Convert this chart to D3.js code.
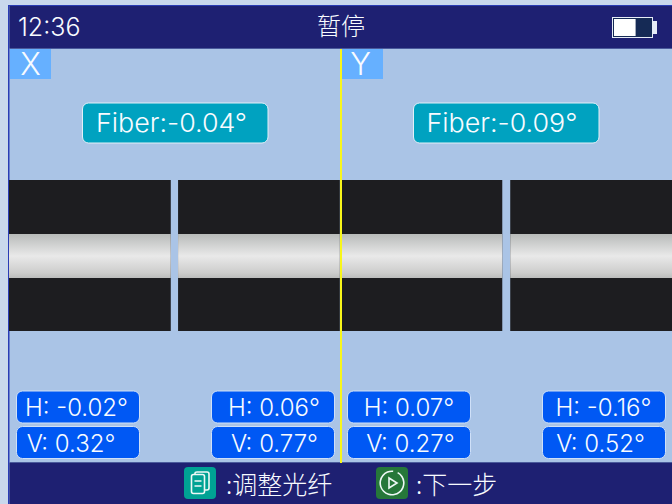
<!DOCTYPE html>
<html>
<head>
<meta charset="utf-8">
<script src="https://cdnjs.cloudflare.com/ajax/libs/d3/7.8.5/d3.min.js"></script>
<style>
  html, body { margin: 0; padding: 0; background: #c9d8ec; overflow: hidden; }
  text { font-family: "Noto Sans CJK SC", "Noto Sans", sans-serif; fill: #f8fbff; font-weight: 300; }
  .latin { font-family: Inter, "Noto Sans", sans-serif; }
</style>
</head>
<body>
<svg width="672" height="504"></svg>
<script>
const axesNames = ["X", "Y"];
const fiberAngles = [-0.04, -0.09];
const hAngles = [-0.02, 0.06, 0.07, -0.16];
const vAngles = [0.32, 0.77, 0.27, 0.52];
const clockTime = "12:36";
const statusTitle = "暂停";
const batteryLevel = 0.6;
// fiber end faces, in % of the screen width
const fiberSegments = [[0, 24.4], [25.5, 49.9], [50, 74.4], [75.6, 100]];
const footerLabels = [":调整光纤", ":下一步"];

const svg = d3.select("svg");

const x = d3.scaleLinear().domain([0, 100]).range([9, 672]);
const axisBand = d3.scaleBand().domain(axesNames).range([9, 672]);
const readoutSlot = d3.scaleOrdinal().domain([0, 1, 2, 3]).range([16, 211, 347, 542]);
const readoutWidth = 123;
// the device does not centre its readouts exactly
const hTextShift = [60.5, 63, 62, 61.5];
const vTextShift = [55, 63.5, 63.5, 58.5];
const fmt = v => `${v.toFixed(2)}°`;

// frame + panels
svg.append("rect").attr("x", 8).attr("y", 5).attr("width", 664).attr("height", 499).attr("fill", "#2a3cb4");
svg.append("rect").attr("x", 9.5).attr("y", 6).attr("width", 662.5).attr("height", 498).attr("fill", "#aac4e6");
svg.append("rect").attr("x", 9.5).attr("y", 6).attr("width", 662.5).attr("height", 42).attr("fill", "#1e2072");
svg.append("rect").attr("x", 9.5).attr("y", 48).attr("width", 662.5).attr("height", 1).attr("fill", "#4a5a9c");
svg.append("rect").attr("x", 9.5).attr("y", 463).attr("width", 662.5).attr("height", 41).attr("fill", "#1e2072");
svg.append("rect").attr("x", 9.5).attr("y", 462).attr("width", 662.5).attr("height", 1).attr("fill", "#4a5a9c");

// header
svg.append("text").attr("class", "latin").attr("x", 18).attr("y", 35.5).attr("font-size", 25).text(clockTime);
svg.append("text").attr("x", 341).attr("y", 35).attr("text-anchor", "middle").attr("font-size", 24).text(statusTitle);

// battery
const battery = svg.append("g").attr("transform", "translate(612,17)");
battery.append("rect").attr("x", 0.5).attr("y", 0.5).attr("width", 40).attr("height", 20).attr("fill", "#152a55").attr("stroke", "#e6ecf6");
battery.append("rect").attr("x", 2).attr("y", 2).attr("width", d3.scaleLinear().domain([0, 1]).range([0, 36])(batteryLevel)).attr("height", 17).attr("fill", "#fff");
battery.append("rect").attr("x", 41).attr("y", 4).attr("width", 4).attr("height", 13).attr("fill", "#e6ecf6");

// fiber gradient
const defs = svg.append("defs");
const grad = defs.append("linearGradient").attr("id", "fiberGrad").attr("x1", 0).attr("x2", 0).attr("y1", 0).attr("y2", 1);
grad.selectAll("stop")
  .data([[0, "#b8bbb9"], [0.12, "#c4c6c5"], [0.5, "#e9e9e9"], [0.88, "#cdcdcc"], [1, "#bcbdbc"]])
  .join("stop")
  .attr("offset", d => d[0])
  .attr("stop-color", d => d[1]);

// fiber blocks
const seg = svg.append("g").selectAll("g").data(fiberSegments).join("g");
seg.append("rect")
  .attr("x", d => x(d[0]))
  .attr("y", 180)
  .attr("width", d => x(d[1]) - x(d[0]))
  .attr("height", 151)
  .attr("fill", "#1d1d20");
seg.append("rect")
  .attr("x", d => x(d[0]))
  .attr("y", 234)
  .attr("width", d => x(d[1]) - x(d[0]))
  .attr("height", 44)
  .attr("fill", "url(#fiberGrad)");

// axis tabs
const tabs = svg.append("g").selectAll("g").data(axesNames).join("g");
tabs.append("rect")
  .attr("x", d => axisBand(d) + (d === "X" ? 1 : 1.5))
  .attr("y", 49)
  .attr("width", 41)
  .attr("height", 30)
  .attr("fill", "#66b0ff");
tabs.append("text")
  .attr("class", "latin")
  .attr("x", d => axisBand(d) + (d === "X" ? 21.5 : 20))
  .attr("y", 75)
  .attr("text-anchor", "middle")
  .attr("font-size", 31)
  .text(d => d);

// fiber angle badges
const badges = svg.append("g").selectAll("g").data(fiberAngles).join("g");
badges.append("rect")
  .attr("x", (d, i) => axisBand(axesNames[i]) + 73.5 - i * 0.5)
  .attr("y", 103)
  .attr("width", 185.5)
  .attr("height", 40)
  .attr("rx", 6)
  .attr("fill", "#00a2c0")
  .attr("stroke", "#e2f0f8");
badges.append("text")
  .attr("class", "latin")
  .attr("x", (d, i) => axisBand(axesNames[i]) + 87 - i)
  .attr("y", 132)
  .attr("font-size", 26)
  .attr("textLength", 151)
  .attr("lengthAdjust", "spacingAndGlyphs")
  .text(d => `Fiber:${fmt(d)}`);

// H / V readouts
const rows = [["H", hAngles, 391, 32, hTextShift], ["V", vAngles, 426.5, 32, vTextShift]];
rows.forEach(([name, values, top, h, shift]) => {
  const g = svg.append("g").selectAll("g").data(values).join("g");
  g.append("rect")
    .attr("x", (d, i) => readoutSlot(i) + 0.5)
    .attr("y", top)
    .attr("width", readoutWidth)
    .attr("height", h)
    .attr("rx", 6)
    .attr("fill", "#0058f4")
    .attr("stroke", "#cfe0f8");
  g.append("text")
    .attr("class", "latin")
    .attr("x", (d, i) => readoutSlot(i) + shift[i])
    .attr("y", top + 25)
    .attr("text-anchor", "middle")
    .attr("font-size", 24)
    .text(d => `${name}: ${fmt(d)}`);
});

// centre line
svg.append("rect").attr("x", 340).attr("y", 49).attr("width", 2).attr("height", 414).attr("fill", "#f8f61a");

// footer icons
const icon1 = svg.append("g").attr("transform", "translate(184,467)");
icon1.append("rect").attr("width", 32).attr("height", 32).attr("rx", 4).attr("fill", "#00a294");
icon1.append("rect").attr("x", 7.5).attr("y", 7.5).attr("width", 13).attr("height", 19).attr("rx", 2).attr("fill", "none").attr("stroke", "#eef8f6").attr("stroke-width", 1.6);
icon1.append("path").attr("d", "M11,7V6Q11,5 13,5H23Q25,5 25,7V21Q25,23 23,23H21").attr("fill", "none").attr("stroke", "#eef8f6").attr("stroke-width", 1.6);
icon1.append("path").attr("d", "M10.5,14H17.5M10.5,19H17.5").attr("stroke", "#eef8f6").attr("stroke-width", 1.6);

const icon2 = svg.append("g").attr("transform", "translate(376,467)");
icon2.append("rect").attr("width", 32).attr("height", 32).attr("rx", 4).attr("fill", "#26773a");
icon2.append("path").attr("d", d3.arc()({ innerRadius: 11, outerRadius: 12.6, startAngle: 0.5, endAngle: 2 * Math.PI + 0.1 })).attr("transform", "translate(16,16)").attr("fill", "#eef8f6");
icon2.append("path").attr("d", "M13,11L21,16L13,21Z").attr("fill", "none").attr("stroke", "#eef8f6").attr("stroke-width", 1.6);

// footer text
svg.append("g").selectAll("text").data(footerLabels).join("text")
  .attr("x", (d, i) => i === 0 ? 226 : 416)
  .attr("y", 494)
  .attr("font-size", 25)
  .text(d => d);
</script>
</body>
</html>
